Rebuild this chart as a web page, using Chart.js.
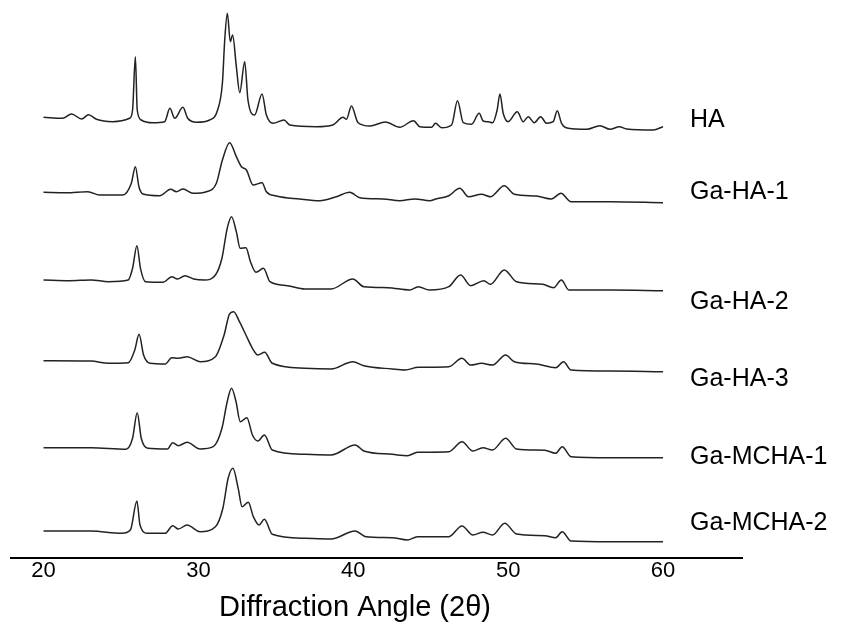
<!DOCTYPE html>
<html>
<head>
<meta charset="utf-8">
<script src="https://cdn.jsdelivr.net/npm/chart.js@4.4.1/dist/chart.umd.min.js"></script>
<style>
  html, body { margin: 0; padding: 0; background: #fff; }
  #xrd { display: block; }
</style>
</head>
<body>
<canvas id="xrd" width="854" height="624"></canvas>
<script>
// sample names, top to bottom
const samples = ["HA", "Ga-HA-1", "Ga-HA-2", "Ga-HA-3", "Ga-MCHA-1", "Ga-MCHA-2"];
// vertical stacking offset of each pattern (a.u.)
const offsets = [425, 353, 265, 184, 98, 14];
// level (a.u.) where each sample name sits
const labelLevels = [438, 366, 256, 179, 101, 35];
const xTicks = [20, 30, 40, 50, 60];

// HA
const haAngle = [20.0, 21.23, 21.81, 22.46, 22.91, 23.42, 24.46, 25.56, 25.75, 25.93, 26.05, 26.31,
  27.04, 27.82, 28.16, 28.47, 29.0, 29.31, 29.89, 30.73, 31.24, 31.55, 31.7, 31.87, 32.06, 32.21,
  32.45, 32.67, 32.99, 33.2, 33.63, 34.11, 34.39, 34.82, 35.53, 35.9, 37.62, 38.68, 39.34, 39.56,
  39.88, 40.31, 41.07, 42.08, 43.0, 43.89, 44.3, 45.05, 45.31, 45.7, 46.35, 46.73, 47.1, 47.64,
  48.13, 48.39, 48.71, 49.0, 49.29, 49.47, 49.68, 50.0, 50.59, 50.97, 51.3, 51.68, 52.1, 52.48,
  52.91, 53.17, 53.45, 53.88, 55.07, 55.93, 56.58, 57.18, 57.65, 59.37, 60.0];
const haCounts = [15.7, 14.7, 19, 14, 18.3, 13.7, 11.3, 14.7, 23, 76.3, 23, 13,
  10.3, 11.3, 24.7, 14.7, 25.7, 14.7, 10.7, 13, 23, 50, 93, 119.7, 91.3, 98,
  66.3, 40.3, 71.3, 33, 18, 39, 18, 9.7, 13, 8, 6.3, 8, 15.7, 13.7,
  27, 10.3, 7, 11, 5.7, 12.3, 6.3, 5.7, 9.7, 5.3, 8, 32.3, 10.3, 8.7,
  19.7, 12, 11.3, 10.3, 23, 39, 19.7, 11.3, 21.3, 11.3, 16.3, 10.3, 16.3, 9.7,
  11.3, 22.3, 9.7, 4.7, 3.7, 7.3, 3.7, 6.3, 4, 3, 6.3];

// Ga-HA-1
const gaHa1Angle = [20.0, 21.47, 22.86, 23.62, 25.12, 25.67, 25.93, 26.16, 26.42, 27.5, 28.21, 28.58,
  29.0, 29.65, 30.51, 31.16, 31.55, 32.02, 32.45, 32.78, 33.1, 33.53, 34.11, 34.39, 35.04, 36.54,
  37.84, 38.91, 39.77, 40.42, 41.93, 43.0, 43.97, 44.94, 45.33, 46.17, 46.88, 47.44, 48.28, 48.85,
  49.75, 50.4, 51.81, 52.79, 53.41, 54.06, 56.59, 60.0];
const gaHa1Counts = [12.7, 12.3, 13.3, 10, 10, 21.7, 38.3, 18.3, 11, 9.3, 15.7, 13.3,
  16, 11.7, 13.3, 21.7, 45, 62.3, 48.3, 38.3, 35, 20, 22.3, 13.3, 9, 6,
  4.3, 8.3, 12.7, 7.3, 6, 4.3, 6, 4.3, 6, 9.3, 16.7, 8.3, 10.7, 8.3,
  19.3, 10.7, 9, 6, 11.7, 3.3, 3.3, 2.3];

// Ga-HA-2
const gaHa2Angle = [20.0, 21.66, 23.07, 24.2, 25.47, 25.75, 26.03, 26.26, 26.59, 27.72, 28.28, 28.65,
  29.13, 29.69, 30.4, 31.1, 31.52, 31.86, 32.14, 32.45, 32.7, 33.07, 33.36, 33.72, 34.2, 34.62,
  35.75, 36.87, 38.57, 39.97, 40.68, 42.23, 43.64, 44.2, 44.91, 46.17, 46.93, 47.58, 48.43, 48.85,
  49.75, 50.54, 52.23, 52.93, 53.44, 53.92, 56.59, 60.0];
const gaHa2Counts = [13, 12.3, 13, 11.3, 13, 24.7, 47.3, 24.7, 11.3, 10.7, 16.3, 14,
  17.3, 14, 13, 18, 34.7, 64.7, 76.3, 61.3, 44.7, 45.3, 31.3, 20.7, 24.7, 11.3,
  7.3, 4, 4, 14, 6.3, 5.3, 3, 6.3, 3, 6.3, 18, 7.3, 12.3, 8.7,
  23, 11.3, 8.7, 5.3, 13, 3, 3, 2.3];

// Ga-HA-3
const gaHa3Angle = [20.0, 23.07, 24.2, 25.47, 25.89, 26.17, 26.46, 26.88, 27.86, 28.28, 28.7, 29.27,
  30.11, 31.1, 31.66, 32.0, 32.28, 32.65, 33.07, 33.49, 33.84, 34.28, 34.77, 36.87, 38.57, 39.97,
  40.68, 42.51, 43.35, 44.2, 46.17, 47.02, 47.58, 48.28, 48.99, 49.84, 50.4, 51.81, 53.07, 53.58,
  54.06, 56.59, 60.0];
const gaHa3Counts = [13.3, 13, 10.7, 11.3, 24, 39.7, 19, 10.7, 10, 16.3, 15.7, 17.3,
  12.3, 17.3, 39, 59.7, 62.3, 52.3, 39, 25.7, 19, 21.7, 10.7, 5.7, 5, 12.3,
  8.3, 5, 4, 6.7, 7.3, 15.7, 9, 10.7, 9, 19, 12.3, 10, 6.3, 12.3,
  4, 3, 2.3];

// Ga-MCHA-1
const gaMcha1Angle = [20.0, 23.07, 25.32, 25.75, 26.05, 26.31, 26.73, 28.0, 28.34, 28.7, 29.27, 30.11,
  30.96, 31.52, 31.86, 32.14, 32.43, 32.7, 33.13, 33.49, 33.84, 34.26, 34.77, 36.87, 38.57, 40.12,
  40.68, 42.51, 43.5, 44.14, 46.17, 47.02, 47.72, 48.37, 48.99, 49.84, 50.54, 52.37, 53.07, 53.49,
  54.06, 56.59, 60.0];
const gaMcha1Counts = [12.3, 12.3, 10.7, 21.7, 47.3, 21.7, 11.7, 11, 17.3, 14.3, 17.7, 11,
  13.3, 31.7, 58.3, 71.7, 58.3, 38.3, 42.3, 25, 19, 25, 10, 5.7, 5, 15,
  9, 5.7, 4.3, 7.7, 8.3, 18.3, 9, 12.3, 10, 21.7, 11, 9.7, 6.7, 13.3,
  3.3, 2.3, 2.3];

// Ga-MCHA-2
const gaMcha2Angle = [20.0, 23.07, 25.04, 25.61, 26.03, 26.23, 26.73, 27.86, 28.34, 28.7, 29.27, 30.11,
  31.1, 31.58, 31.92, 32.23, 32.57, 32.82, 33.22, 33.55, 33.92, 34.26, 34.77, 36.87, 38.57, 40.12,
  40.82, 42.51, 43.5, 44.14, 46.17, 47.02, 47.72, 48.37, 48.99, 49.78, 50.54, 52.37, 53.07, 53.49,
  54.06, 56.59, 60.0];
const gaMcha2Counts = [13, 13, 10.7, 14, 43, 19, 10.7, 10.7, 18.3, 15, 19, 12.3,
  17.3, 35.7, 65.7, 75.7, 55.7, 37.3, 41.7, 27.3, 19, 24.7, 9.7, 5.7, 5, 13,
  7.3, 6.3, 4, 7.3, 7.3, 18, 9, 11.7, 9, 20.7, 10, 8.3, 6.3, 12.3,
  3, 2.3, 2.3];

const angles = [haAngle, gaHa1Angle, gaHa2Angle, gaHa3Angle, gaMcha1Angle, gaMcha2Angle];
const counts = [haCounts, gaHa1Counts, gaHa2Counts, gaHa3Counts, gaMcha1Counts, gaMcha2Counts];

const FONT = "Arial, 'Liberation Sans', Helvetica, sans-serif";

function buildDatasets() {
  return samples.map((name, i) => ({
    label: name,
    data: angles[i].map((a, k) => ({ x: a, y: offsets[i] + counts[i][k] })),
    borderColor: "#222",
    borderWidth: 1.5,
    pointRadius: 0,
    cubicInterpolationMode: "monotone",
    fill: false
  }));
}

// sample names at the right of each pattern
const sampleLabels = {
  id: "sampleLabels",
  afterDraw(chart) {
    const ctx = chart.ctx;
    const y = chart.scales.y;
    ctx.save();
    ctx.fillStyle = "#000";
    ctx.font = "25px " + FONT;
    ctx.textAlign = "left";
    ctx.textBaseline = "middle";
    samples.forEach((name, i) => {
      ctx.fillText(name, 690, y.getPixelForValue(labelLevels[i]));
    });
    ctx.restore();
  }
};

// axis caption, sits a little left of the axis centre in the original
const axisCaption = {
  id: "axisCaption",
  afterDraw(chart) {
    const ctx = chart.ctx;
    ctx.save();
    ctx.fillStyle = "#000";
    ctx.font = "29px " + FONT;
    ctx.textAlign = "center";
    ctx.textBaseline = "middle";
    ctx.fillText("Diffraction Angle (2\u03b8)", 355, 608);
    ctx.restore();
  }
};

new Chart(document.getElementById("xrd"), {
  type: "line",
  data: { datasets: buildDatasets() },
  plugins: [sampleLabels, axisCaption],
  options: {
    responsive: false,
    animation: false,
    layout: { padding: { left: 11, right: 112, top: 0, bottom: 0 } },
    plugins: {
      legend: { display: false },
      tooltip: { enabled: false }
    },
    scales: {
      x: {
        type: "linear",
        min: 17.9,
        max: 65.1,
        afterBuildTicks: (scale) => { scale.ticks = xTicks.map(v => ({ value: v })); },
        afterFit: (scale) => { scale.height = 66; },
        grid: { display: false, drawTicks: false },
        border: { display: true, color: "#000", width: 2 },
        ticks: { color: "#000", padding: 0, font: { family: FONT, size: 22 } }
      },
      y: {
        display: false,
        min: 0,
        max: 558
      }
    }
  }
});
</script>
</body>
</html>
